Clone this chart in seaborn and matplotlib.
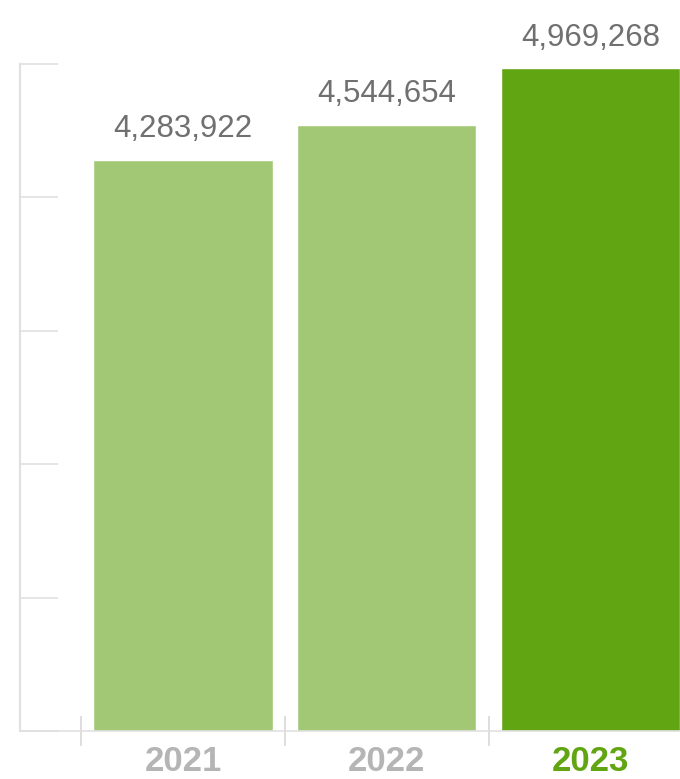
import matplotlib
matplotlib.use("Agg")
import matplotlib.pyplot as plt
import seaborn as sns
import pandas as pd

years = ["2021", "2022", "2023"]
values = [4283922, 4544654, 4969268]
bar_colors = ["#a2c875", "#a2c875", "#62a512"]
year_colors = ["#b5b5b5", "#b5b5b5", "#62a512"]
y_ticks = [0, 1000000, 2000000, 3000000, 4000000, 5000000]

sns.set_style("white")
plt.rcParams['font.family'] = ['Liberation Sans', 'DejaVu Sans']

df = pd.DataFrame({"year": years, "value": values})

fig = plt.figure(figsize=(6.8, 7.79), dpi=100)
ax = fig.add_axes([20/680, 48/779, 660/680, 667/779])

sns.barplot(data=df, x="year", y="value", hue="year", palette=bar_colors,
            width=0.88, legend=False, ax=ax, saturation=1)

ax.set_xlim(-0.8, 2.44)
ax.set_ylim(0, 5000000)
ax.set_xlabel("")
ax.set_ylabel("")

for sp in ["top", "right"]:
    ax.spines[sp].set_visible(False)
ax.spines["left"].set_color("#e0e0e0")
ax.spines["left"].set_linewidth(1.5)
ax.spines["bottom"].set_color("#e0e0e0")
ax.spines["bottom"].set_linewidth(1.2)

ax.set_yticks(y_ticks)
ax.set_yticklabels([])
ax.tick_params(axis="y", direction="in", length=27, width=1.2, colors="#e0e0e0", left=True)

ax.set_xticks([0, 1, 2])
ax.set_xticklabels(years)
ax.tick_params(axis="x", which="major", length=0, pad=10)
ax.set_xticks([-0.5, 0.5, 1.5], minor=True)
ax.tick_params(axis="x", which="minor", direction="inout", length=21, width=1.2,
               color="#d8d8d8", bottom=True)

for lbl, c in zip(ax.get_xticklabels(), year_colors):
    lbl.set_color(c)
    lbl.set_fontweight("bold")
    lbl.set_fontsize(25)

for i, v in enumerate(values):
    ax.annotate(f"{v:,}", xy=(i, v), xytext=(0, 11), textcoords="offset points",
                ha="center", va="bottom", fontsize=22.5, color="#707070",
                annotation_clip=False)

fig.savefig("out.png", dpi=100)
